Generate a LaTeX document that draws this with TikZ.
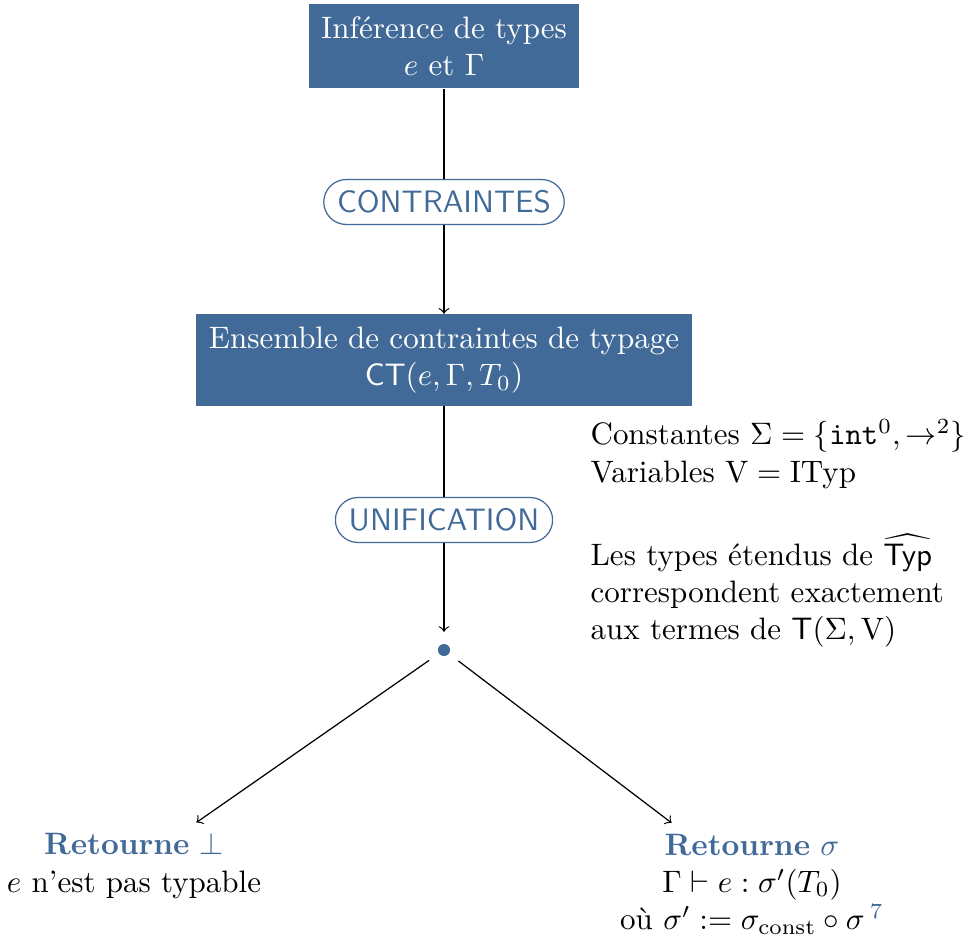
\documentclass[tikz,border=0pt]{standalone}
\usepackage{amsmath,amssymb}
\definecolor{typblue}{RGB}{66,106,152}

\tikzset{every picture/.style={line width=0.4pt}}
\tikzset{etape/.style={fill=typblue, text=white, align=center, inner xsep=4pt, inner ysep=4pt},
  phase/.style={draw=typblue, text=typblue, font=\sffamily, rounded corners=7.25pt, minimum height=14.5pt, inner xsep=4.3pt, fill=white},
  issue/.style={align=center}}

\begin{document}
\begin{tikzpicture}[x=0.3226pt,y=0.3226pt,yscale=-1,xscale=1]
\useasboundingbox (0,0) rectangle (972,937);

% Boites
\node [etape, minimum width=86.5pt, minimum height=26.8pt] (inference) at (444,46) {Inf\'erence de types\\ $e$ et $\Gamma$};
\node [etape, minimum width=159.7pt, minimum height=28.7pt] (ensemble) at (444,360) {Ensemble de contraintes de typage\\ $\mathsf{CT}(e,\Gamma,T_0)$};

% Phases
\node [phase] (contraintes) at (444,202) {CONTRAINTES};
\node [phase] (unification) at (444,520) {UNIFICATION};

% Point de choix
\node [circle, fill=typblue, inner sep=0pt, minimum size=3.9pt, outer sep=3.9pt] (choix) at (444,650) {};

% Issues
\node [issue] (echec) at (134,866) {{\color{typblue}\textbf{Retourne} $\bot$}\\ $e$ n'est pas typable};
\node [issue] (succes) at (752,884) {{\color{typblue}\textbf{Retourne} $\sigma$}\\ $\Gamma\vdash e:\sigma'(T_0)$\\ o\`u $\sigma':=\sigma_{\mathrm{const}}\circ\sigma$\,{\color{typblue}\textsuperscript{7}}};

% Texte a droite
\node [anchor=north west, inner sep=0pt, align=left] (termes) at (590,419) {Constantes $\Sigma=\{\mathtt{int}^0,\to^2\}$\\ Variables $\mathrm{V}=\mathrm{ITyp}$\\[13.8pt] Les types \'etendus de $\widehat{\mathsf{Typ}}$\\ correspondent exactement\\ aux termes de $\mathsf{T}(\Sigma,\mathrm{V})$};

% Fleches
\draw (inference) -- (contraintes);
\draw [->] (contraintes) -- (ensemble);
\draw (ensemble) -- (unification);
\draw [->] (unification) -- (choix);
\draw [->] (choix) -- (echec);
\draw [->] (choix) -- (succes);

\end{tikzpicture}
\end{document}
